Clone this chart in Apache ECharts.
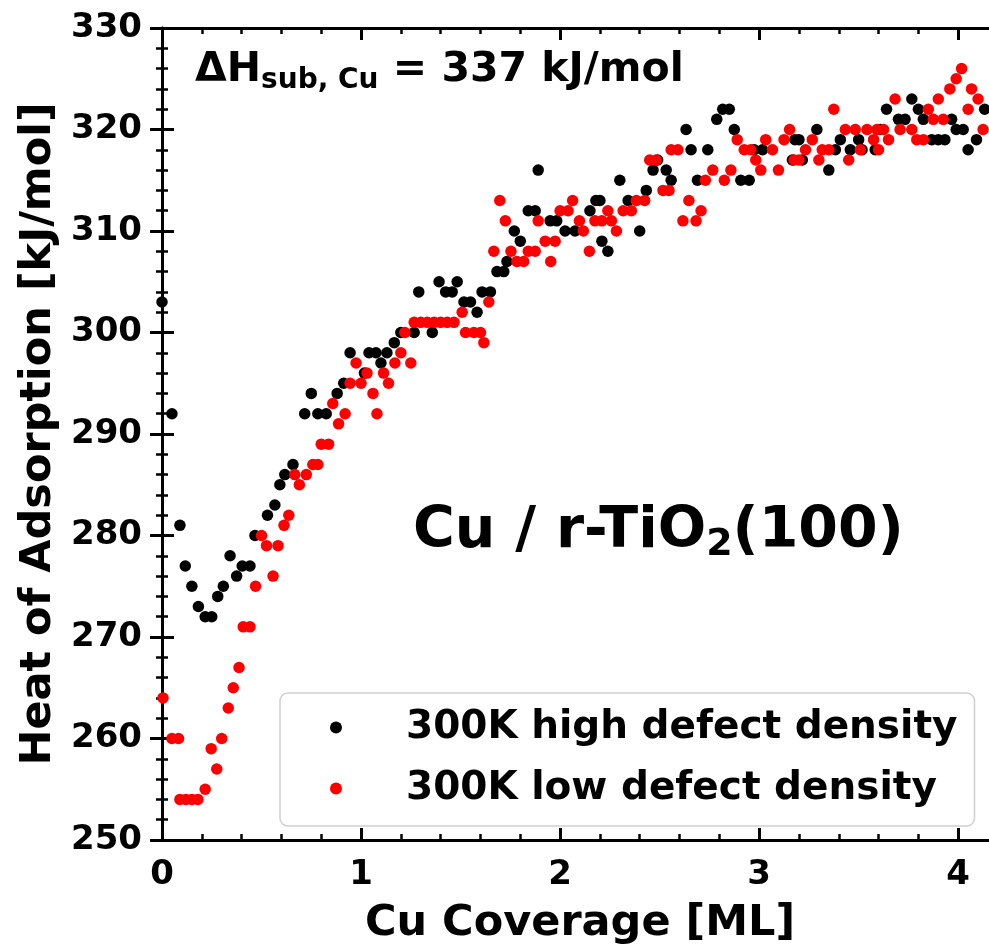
<!DOCTYPE html>
<html>
<head>
<meta charset="utf-8">
<script src="https://cdn.jsdelivr.net/npm/echarts@6/dist/echarts.min.js"></script>
<style>
html,body{margin:0;padding:0;background:#fff;}
#chart{width:989px;height:947px;}
</style>
</head>
<body>
<div id="chart"></div>
<script>
// ---- data ----
var highDefectX = [0.0,0.05,0.09,0.117,0.15,0.183,0.217,0.25,0.28,0.308,0.342,0.375,0.403,0.442,0.467,0.53,0.567,0.592,0.617,0.658,0.717,0.75,0.783,0.825,0.88,0.913,0.945,1.017,1.04,1.075,1.1,1.13,1.167,1.2,1.267,1.29,1.358,1.392,1.425,1.458,1.483,1.517,1.55,1.583,1.608,1.65,1.683,1.717,1.733,1.77,1.8,1.84,1.875,1.89,1.95,1.983,2.025,2.075,2.15,2.18,2.2,2.21,2.24,2.3,2.342,2.4,2.433,2.467,2.49,2.533,2.558,2.633,2.658,2.69,2.742,2.787,2.817,2.85,2.875,2.908,2.95,2.975,3.017,3.167,3.18,3.2,3.217,3.29,3.35,3.383,3.408,3.458,3.5,3.517,3.583,3.608,3.64,3.7,3.733,3.767,3.8,3.825,3.867,3.9,3.933,3.967,3.99,4.025,4.05,4.092,4.133];
var highDefectY = [303,292,281,277,275,273,272,272,274,275,278,276,277,277,280,282,283,285,286,287,292,294,292,292,294,295,298,296,298,298,297,298,299,300,300,304,300,305,304,304,305,303,303,302,304,304,306,306,307,310,309,312,312,316,311,311,310,310,312,313,313,309,308,315,313,310,314,316,317,316,315,320,318,315,318,321,322,322,320,315,315,318,318,317,319,319,317,320,316,318,319,318,319,318,318,320,322,321,321,323,322,321,319,319,319,321,320,320,318,319,322];
var lowDefectX = [0.005,0.05,0.083,0.09,0.12,0.15,0.18,0.217,0.247,0.275,0.3,0.333,0.358,0.387,0.408,0.442,0.47,0.5,0.525,0.558,0.583,0.613,0.637,0.667,0.69,0.725,0.758,0.783,0.8,0.837,0.858,0.887,0.92,0.945,0.975,1.0,1.03,1.06,1.08,1.113,1.138,1.17,1.2,1.22,1.25,1.267,1.3,1.333,1.367,1.4,1.433,1.467,1.508,1.525,1.567,1.6,1.617,1.642,1.667,1.697,1.725,1.753,1.783,1.817,1.84,1.875,1.89,1.925,1.953,1.975,2.0,2.04,2.063,2.097,2.117,2.147,2.175,2.21,2.24,2.258,2.283,2.317,2.358,2.383,2.425,2.45,2.483,2.517,2.547,2.558,2.592,2.617,2.647,2.683,2.708,2.73,2.767,2.825,2.858,2.89,2.925,2.958,2.983,3.008,3.033,3.067,3.097,3.125,3.153,3.175,3.2,3.233,3.267,3.3,3.317,3.35,3.375,3.433,3.45,3.483,3.508,3.542,3.575,3.592,3.6,3.625,3.65,3.683,3.708,3.767,3.792,3.825,3.85,3.875,3.9,3.925,3.958,3.99,4.017,4.05,4.067,4.1,4.125];
var lowDefectY = [264,260,260,254,254,254,254,255,259,257,260,263,265,267,271,271,275,280,279,276,279,281,282,286,285,286,287,287,289,289,293,291,292,295,297,295,296,294,292,296,295,297,298,300,297,301,301,301,301,301,301,301,302,300,300,300,299,303,308,313,311,308,307,307,308,308,311,309,307,309,312,312,313,311,310,308,311,311,312,311,310,312,312,313,313,317,317,314,314,318,318,311,313,311,312,315,316,315,316,319,318,318,317,316,319,318,316,319,320,317,317,318,319,317,318,318,322,320,317,320,318,320,319,320,318,320,319,323,320,320,319,319,322,321,323,321,324,325,326,322,324,323,320];
var seriesNames = ['300K high defect density', '300K low defect density'];
var yTicks = {min: 250, max: 330, step: 10};
var xTicks = {min: 0, max: 4.2, step: 1, minorStep: 0.2};

function pairs(xs, ys) { return xs.map(function (x, i) { return [x, ys[i]]; }); }

var FONT = 'DejaVu Sans';
var chart = echarts.init(document.getElementById('chart'), null, {renderer: 'canvas'});

function isInt(v) { return Math.abs(v - Math.round(v)) < 1e-6; }

var xBase = {
  type: 'value', min: xTicks.min, max: xTicks.max, gridIndex: 0,
  splitLine: {show: false}
};

var option = {
  animation: false,
  backgroundColor: '#fff',
  textStyle: {fontFamily: FONT},
  grid: {left: 162, top: 28, width: 836, height: 812, containLabel: false, outerBoundsMode: 'none'},
  xAxis: [
    Object.assign({}, xBase, {
      position: 'bottom', interval: xTicks.minorStep,
      axisLine: {show: true, lineStyle: {color: '#000', width: 3}},
      axisTick: {show: true, inside: true, length: 6, lineStyle: {color: '#000', width: 2.5}},
      axisLabel: {show: true, color: '#000', fontFamily: FONT, fontWeight: 'bold', fontSize: 34, margin: 18,
        formatter: function (v) { return isInt(v) ? String(Math.round(v)) : ''; }},
      name: 'Cu Coverage [ML]', nameLocation: 'middle', nameGap: 62,
      nameTextStyle: {color: '#000', fontFamily: FONT, fontWeight: 'bold', fontSize: 43}
    }),
    Object.assign({}, xBase, {
      position: 'bottom', interval: xTicks.step,
      axisLine: {show: false},
      axisTick: {show: true, inside: true, length: 12, lineStyle: {color: '#000', width: 3}},
      axisLabel: {show: false}
    }),
    Object.assign({}, xBase, {
      position: 'top', interval: xTicks.minorStep,
      axisLine: {show: true, lineStyle: {color: '#000', width: 3}},
      axisTick: {show: true, inside: true, length: 6, lineStyle: {color: '#000', width: 2.5}},
      axisLabel: {show: false}
    }),
    Object.assign({}, xBase, {
      position: 'top', interval: xTicks.step,
      axisLine: {show: false},
      axisTick: {show: true, inside: true, length: 12, lineStyle: {color: '#000', width: 3}},
      axisLabel: {show: false}
    })
  ],
  yAxis: [
    {
      type: 'value', min: yTicks.min, max: yTicks.max, interval: yTicks.step, position: 'left',
      splitLine: {show: false},
      axisLine: {show: true, lineStyle: {color: '#000', width: 3}},
      axisTick: {show: true, inside: true, length: 12, lineStyle: {color: '#000', width: 3}},
      minorTick: {show: true, splitNumber: 5, length: 6, lineStyle: {color: '#000', width: 2.5}},
      axisLabel: {color: '#000', fontFamily: FONT, fontWeight: 'bold', fontSize: 34, margin: 20},
      name: 'Heat of Adsorption [kJ/mol]', nameLocation: 'middle', nameGap: 102, nameRotate: 90,
      nameTextStyle: {color: '#000', fontFamily: FONT, fontWeight: 'bold', fontSize: 43}
    },
    {
      type: 'value', min: yTicks.min, max: yTicks.max, interval: yTicks.step, position: 'right',
      splitLine: {show: false},
      axisLine: {show: true, lineStyle: {color: '#000', width: 3}},
      axisTick: {show: true, inside: true, length: 12, lineStyle: {color: '#000', width: 3}},
      minorTick: {show: true, splitNumber: 5, length: 6, lineStyle: {color: '#000', width: 2.5}},
      axisLabel: {show: false}
    }
  ],
  legend: {
    data: seriesNames,
    orient: 'vertical', left: 280, top: 693,
    padding: [15, 17, 18, 50],
    itemWidth: 12, itemHeight: 12, itemGap: 22,
    icon: 'circle',
    backgroundColor: 'rgba(255,255,255,0.85)',
    borderColor: '#d0d0d0', borderWidth: 1.5, borderRadius: 8,
    textStyle: {color: '#000', fontFamily: FONT, fontWeight: 'bold', fontSize: 39, lineHeight: 36, padding: [0, 0, 0, 59]}
  },
  graphic: [
    {
      type: 'text', left: 195, top: 50, z: 100,
      style: {
        text: '{a|ΔH}{s|sub, Cu}{a| = 337 kJ/mol}',
        rich: {
          a: {fontFamily: FONT, fontWeight: 'bold', fontSize: 41, lineHeight: 48, fill: '#000'},
          s: {fontFamily: FONT, fontWeight: 'bold', fontSize: 28, lineHeight: 24, verticalAlign: 'bottom', fill: '#000'}
        }
      }
    },
    {
      type: 'text', left: 413, top: 504, z: 100,
      style: {
        text: '{a|Cu / r-TiO}{s|2}{a|(100)}',
        rich: {
          a: {fontFamily: FONT, fontWeight: 'bold', fontSize: 57, lineHeight: 64, fill: '#000'},
          s: {fontFamily: FONT, fontWeight: 'bold', fontSize: 38, lineHeight: 35, verticalAlign: 'bottom', fill: '#000'}
        }
      }
    }
  ],
  series: [
    {
      name: seriesNames[0], type: 'scatter', xAxisIndex: 0, yAxisIndex: 0,
      symbol: 'circle', symbolSize: 11.5, itemStyle: {color: '#000', opacity: 1},
      data: pairs(highDefectX, highDefectY), clip: true
    },
    {
      name: seriesNames[1], type: 'scatter', xAxisIndex: 0, yAxisIndex: 0,
      symbol: 'circle', symbolSize: 11.5, itemStyle: {color: '#ff0000', opacity: 1},
      data: pairs(lowDefectX, lowDefectY), clip: true
    }
  ]
};
chart.setOption(option);
</script>
</body>
</html>
